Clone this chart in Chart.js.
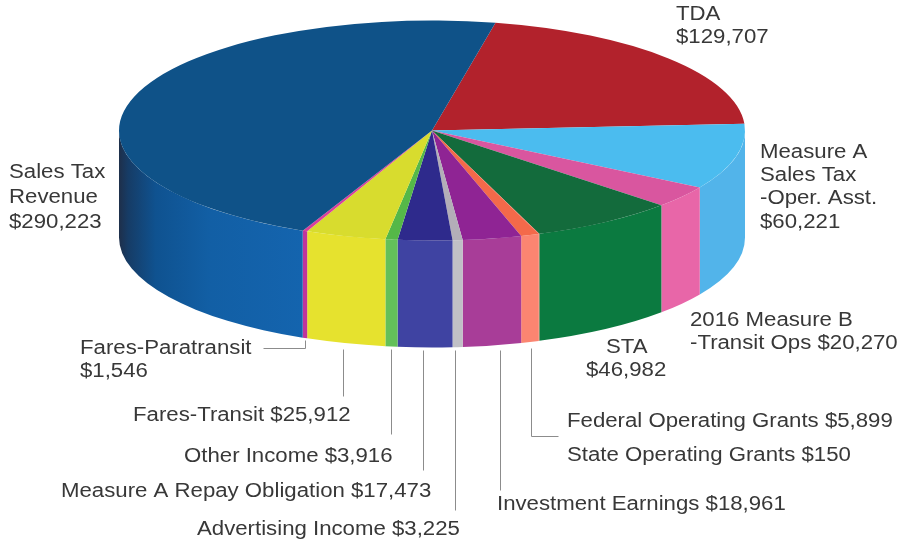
<!DOCTYPE html>
<html>
<head>
<meta charset="utf-8">
<style>html,body{margin:0;padding:0;background:#fff}#box{width:903px;height:544px;position:relative}</style>
<script src="https://cdn.jsdelivr.net/npm/chart.js@4"></script>
</head>
<body>
<div id="box"><canvas id="c" width="903" height="544"></canvas></div>
<script>
const categories = ["TDA","Measure A Sales Tax -Oper. Asst.","2016 Measure B -Transit Ops","STA","State Operating Grants","Federal Operating Grants","Investment Earnings","Advertising Income","Measure A Repay Obligation","Other Income","Fares-Transit","Fares-Paratransit","Sales Tax Revenue"];
const values = [129707,60221,20270,46982,150,5899,18961,3225,17473,3916,25912,1546,290223];
const topColors = ["#b2222c","#4bbcef","#d9569f","#136b3c","#f4694a","#f4694a","#8f2494","#b3aeb8","#2e2a8c","#55b848","#d8dc2e","#d8409c","#0f5288"];
const sideColors = ["#b2222c","#52b4ea","#e866a8","#0b7a40","#fb8571","#fb8571","#a83d98","#c0c0c6","#3f43a2","#63c05a","#e6e22e","#c0359c","#1464ae"];
const labelLines = [
  ["TDA","$129,707"],
  ["Measure A","Sales Tax","-Oper. Asst.","$60,221"],
  ["2016 Measure B","-Transit Ops $20,270"],
  ["STA","$46,982"],
  ["State Operating Grants $150"],
  ["Federal Operating Grants $5,899"],
  ["Investment Earnings $18,961"],
  ["Advertising Income $3,225"],
  ["Measure A Repay Obligation $17,473"],
  ["Other Income $3,916"],
  ["Fares-Transit $25,912"],
  ["Fares-Paratransit","$1,546"],
  ["Sales Tax","Revenue","$290,223"]
];
const labelSpots = [
  [[676,14],[676,37]],
  [[760,152],[760,175],[760,198],[760,222]],
  [[690,320],[690,343]],
  [[606,347],[586,370]],
  [[567,455]],
  [[567,421]],
  [[497,504]],
  [[197,529]],
  [[61,491]],
  [[184,456]],
  [[133,415]],
  [[80,348],[80,371]],
  [[9,172],[9,197],[9,222]]
];
const leaders = [
  [[305,340],[305,348],[263,348]],
  [[343,349],[343,396]],
  [[391,349],[391,434]],
  [[423,350],[423,470]],
  [[455,350],[455,510]],
  [[500,350],[500,490]],
  [[531,348],[531,436],[558,436]]
];
const RADIUS = 313, SQUASH = 110/313, DEPTH = 107, TEXT_STRETCH = 1.11;
const salesShade = [[0,"#1e2f4a"],[0.05,"#163c66"],[0.2,"#0f5290"],[0.5,"#125fa5"],[1,"#1464ae"]];

const pie3d = {
  id:"pie3d",
  beforeDatasetsDraw(chart){
    const ctx = chart.ctx;
    chart.getDatasetMeta(0).data.forEach((arc,i)=>{
      const a = Math.max(arc.startAngle,0), b = Math.min(arc.endAngle,Math.PI);
      if(b<=a) return;
      const rx = arc.outerRadius, ry = rx*SQUASH;
      ctx.beginPath();
      ctx.ellipse(arc.x,arc.y,rx,ry,0,a,b,false);
      ctx.ellipse(arc.x,arc.y+DEPTH,rx,ry,0,b,a,true);
      ctx.closePath();
      if(i===values.length-1){
        const g = ctx.createLinearGradient(arc.x-rx,0,arc.x+rx*Math.cos(a),0);
        salesShade.forEach(s=>g.addColorStop(s[0],s[1]));
        ctx.fillStyle = g;
      } else ctx.fillStyle = sideColors[i];
      ctx.fill();
    });
  },
  beforeDatasetDraw(chart){
    const ctx = chart.ctx, arc = chart.getDatasetMeta(0).data[0];
    ctx.save();
    ctx.translate(arc.x,arc.y);
    ctx.scale(1,SQUASH);
    ctx.translate(-arc.x,-arc.y);
  },
  afterDatasetDraw(chart){ chart.ctx.restore(); },
  afterDraw(chart){
    const ctx = chart.ctx;
    ctx.save();
    ctx.strokeStyle="#8c8c8c"; ctx.lineWidth=1;
    leaders.forEach(l=>{
      ctx.beginPath();
      l.forEach((p,k)=>k?ctx.lineTo(p[0]+.5,p[1]+.5):ctx.moveTo(p[0]+.5,p[1]+.5));
      ctx.stroke();
    });
    ctx.fillStyle="#383838";
    ctx.font='20px "Liberation Sans"';
    ctx.textBaseline="middle"; ctx.textAlign="left";
    labelLines.forEach((lines,i)=>lines.forEach((t,k)=>{
      const p = labelSpots[i][k];
      ctx.save();
      ctx.translate(p[0],p[1]);
      ctx.scale(TEXT_STRETCH,1);
      ctx.fillText(t,0,0);
      ctx.restore();
    }));
    ctx.restore();
  }
};

new Chart(document.getElementById("c"),{
  type:"pie",
  data:{labels:categories,datasets:[{data:values,backgroundColor:topColors,borderWidth:0,clip:false}]},
  options:{
    responsive:false,animation:false,
    rotation:11.7,radius:RADIUS,
    layout:{padding:{left:0,right:39,top:0,bottom:283}},
    plugins:{legend:{display:false},tooltip:{enabled:false}}
  },
  plugins:[pie3d]
});
</script>
</body>
</html>
